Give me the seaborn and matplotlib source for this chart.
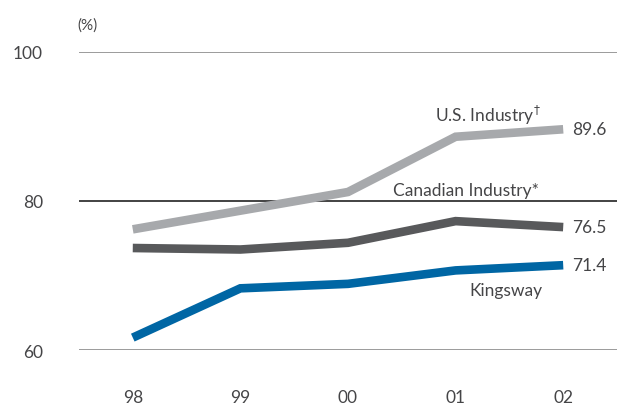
import matplotlib
matplotlib.use("Agg")
import matplotlib.pyplot as plt
import pandas as pd
import seaborn as sns

YEARS = ["98", "99", "00", "01", "02"]
US_INDUSTRY = [76.2, 78.7, 81.2, 88.6, 89.6]
CANADIAN_INDUSTRY = [73.7, 73.5, 74.4, 77.3, 76.5]
KINGSWAY = [61.7, 68.3, 68.9, 70.7, 71.4]
Y_TICKS = [60, 80, 100]

SERIES = {
    "U.S. Industry\u2020": US_INDUSTRY,
    "Canadian Industry*": CANADIAN_INDUSTRY,
    "Kingsway": KINGSWAY,
}
COLORS = {
    "U.S. Industry\u2020": "#a7a9ac",
    "Canadian Industry*": "#58595b",
    "Kingsway": "#0066a4",
}
TEXT = "#454547"


def main():
    sns.set_style("white")
    plt.rcParams["font.family"] = ["Lato", "DejaVu Sans"]

    rows = []
    for name, values in SERIES.items():
        for i, v in enumerate(values):
            rows.append({"series": name, "x": i, "value": v})
    df = pd.DataFrame(rows)

    fig = plt.figure(figsize=(6.17, 4.06), dpi=100)
    ax = fig.add_axes([0.128, 0.1347, 0.872, 0.7357])

    # gridlines behind the data
    for t in Y_TICKS:
        ax.axhline(t, color="#222222" if t == 80 else "#8a8a8a", lw=1.2, zorder=1)

    sns.lineplot(data=df, x="x", y="value", hue="series", palette=COLORS,
                 lw=6.2, ax=ax, legend=False, zorder=3)
    for line in ax.get_lines()[len(Y_TICKS):]:
        line.set_solid_capstyle("butt")
        line.set_solid_joinstyle("miter")

    ax.set_xlim(-0.5, 4.5)
    ax.set_ylim(60, 100)
    ax.set_xticks(range(len(YEARS)))
    ax.set_xticklabels(YEARS)
    ax.set_yticks(Y_TICKS)
    ax.tick_params(axis="x", length=0, pad=28, labelsize=12.5, labelcolor=TEXT)
    ax.tick_params(axis="y", length=0, pad=26, labelsize=12.5, labelcolor=TEXT)
    ax.set_xlabel("")
    ax.set_ylabel("")
    for s in ax.spines.values():
        s.set_visible(False)

    fig.text(0.126, 0.938, "(%)", fontsize=11, color=TEXT, va="center")

    # series labels
    ax.text(3.3, US_INDUSTRY[3] + 3.0, "U.S. Industry$^\u2020$", fontsize=12.5, color=TEXT,
            ha="center", va="center")
    ax.text(3.1, 81.5, "Canadian Industry*", fontsize=12.5, color=TEXT,
            ha="center", va="center")
    ax.text(3.47, KINGSWAY[3] - 2.6, "Kingsway", fontsize=12.5, color=TEXT,
            ha="center", va="center")

    # end values
    for name, values in SERIES.items():
        ax.text(4.08, values[-1], f"{values[-1]:.1f}", fontsize=12.5, color=TEXT,
                ha="left", va="center")

    fig.savefig("out.png", dpi=100)
    plt.close(fig)


if __name__ == "__main__":
    main()
